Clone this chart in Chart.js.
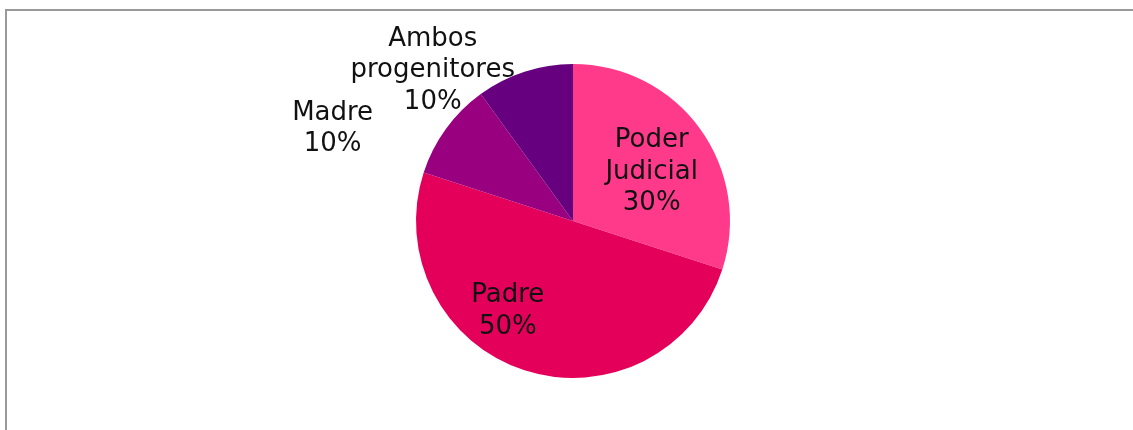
<!DOCTYPE html>
<html><head><meta charset="utf-8">
<script src="https://cdn.jsdelivr.net/npm/chart.js@4/dist/chart.umd.min.js"></script>
<style>
html,body{margin:0;padding:0;background:#fff;width:1133px;height:430px;overflow:hidden}
#frame{position:absolute;left:5px;top:9px;width:1200px;height:500px;border-left:2px solid #999;border-top:2px solid #999;box-sizing:border-box}
#wrap{position:absolute;left:0;top:0;width:1133px;height:430px}
</style></head>
<body>
<div id="frame"></div>
<div id="wrap"><canvas id="c" width="1133" height="430"></canvas></div>
<script>
const categories = ["Poder Judicial", "Padre", "Madre", "Ambos progenitores"];
const values = [30, 50, 10, 10];
const labelLines = [["Poder", "Judicial", "30%"], ["Padre", "50%"], ["Madre", "10%"], ["Ambos", "progenitores", "10%"]];
const colors = ["#FF3A8B", "#E4005A", "#990080", "#66007F"];
// label placement: radius as fraction of outer radius, angle offset (deg) from slice mid angle
const placement = [{r:0.59, da:4.2}, {r:0.71, da:17.8}, {r:1.64, da:-15}, {r:1.31, da:-25}];

const labelPlugin = {
  id: 'sliceLabels',
  afterDatasetsDraw(chart) {
    const ctx = chart.ctx;
    const meta = chart.getDatasetMeta(0);
    ctx.save();
    ctx.font = '26px "DejaVu Sans"';
    ctx.fillStyle = '#111';
    ctx.textAlign = 'center';
    ctx.textBaseline = 'middle';
    const lh = 31.5;
    meta.data.forEach((arc, i) => {
      const p = arc.getProps(['x','y','startAngle','endAngle','outerRadius'], true);
      const mid = (p.startAngle + p.endAngle) / 2 + placement[i].da * Math.PI / 180;
      const rr = p.outerRadius * placement[i].r;
      const cx = p.x + Math.cos(mid) * rr;
      const cy = p.y + Math.sin(mid) * rr;
      const lines = labelLines[i];
      const y0 = cy - (lines.length - 1) * lh / 2;
      lines.forEach((t, k) => ctx.fillText(t, cx, y0 + k * lh));
    });
    ctx.restore();
  }
};

new Chart(document.getElementById('c'), {
  type: 'pie',
  data: { labels: categories, datasets: [{ data: values, backgroundColor: colors, borderWidth: 0 }] },
  options: {
    responsive: false,
    animation: false,
    layout: { padding: { top: 64, bottom: 52, left: 13, right: 0 } },
    plugins: { legend: { display: false }, tooltip: { enabled: false } }
  },
  plugins: [labelPlugin]
});
</script>
</body></html>
